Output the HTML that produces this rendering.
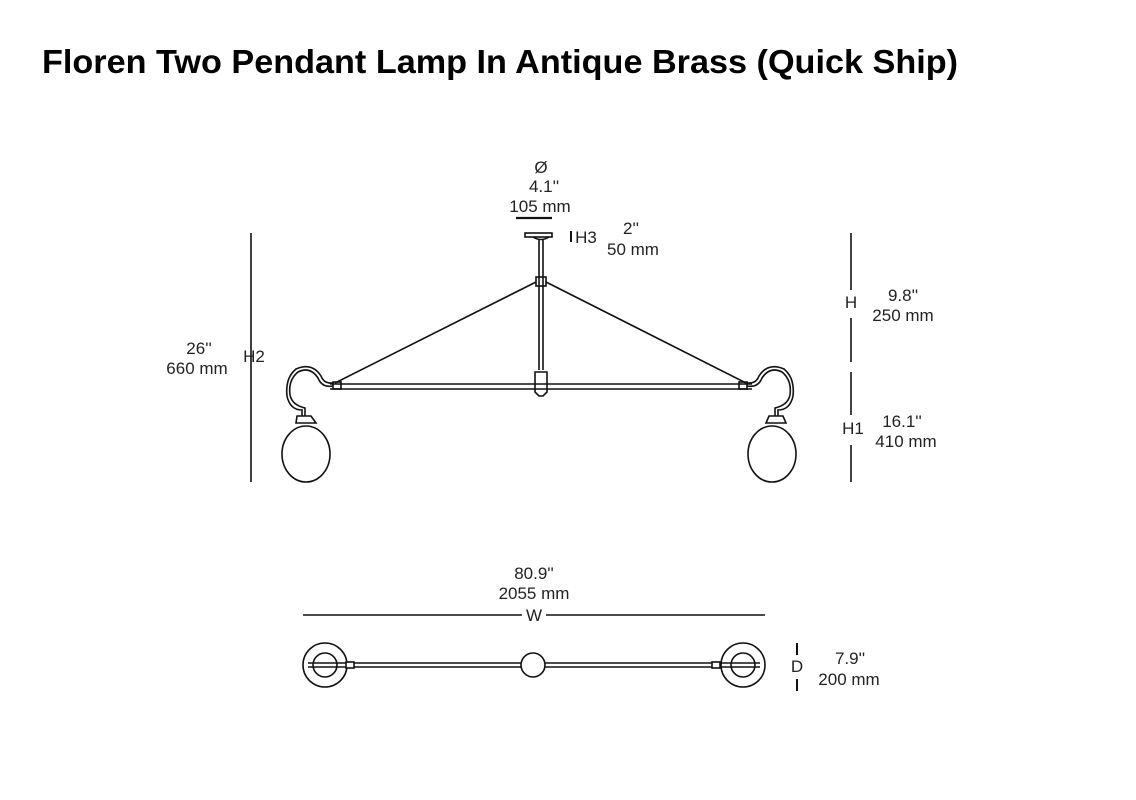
<!DOCTYPE html>
<html><head><style>
html,body{margin:0;padding:0;background:#fff;}
svg{display:block;}
text{font-family:"Liberation Sans",sans-serif;fill:#222;}
</style></head><body>
<svg width="1136" height="800" viewBox="0 0 1136 800" xmlns="http://www.w3.org/2000/svg">
<text x="42" y="73" font-size="33" font-weight="bold" style="fill:#000" textLength="916" lengthAdjust="spacingAndGlyphs">Floren Two Pendant Lamp In Antique Brass (Quick Ship)</text>

<g font-size="17" text-anchor="middle">
<text x="541" y="173">Ø</text>
<text x="544" y="192">4.1''</text>
<text x="540" y="212">105 mm</text>
<text x="586" y="243">H3</text>
<text x="631" y="234">2''</text>
<text x="633" y="255">50 mm</text>
<text x="199" y="354">26''</text>
<text x="197" y="374">660 mm</text>
<text x="254" y="362">H2</text>
<text x="851" y="308">H</text>
<text x="903" y="301">9.8''</text>
<text x="903" y="321">250 mm</text>
<text x="853" y="434">H1</text>
<text x="902" y="427">16.1''</text>
<text x="906" y="447">410 mm</text>
<text x="534" y="579">80.9''</text>
<text x="534" y="599">2055 mm</text>
<text x="534" y="621">W</text>
<text x="797" y="672">D</text>
<text x="850" y="664">7.9''</text>
<text x="849" y="685">200 mm</text>
</g>

<g stroke="#111" fill="none" stroke-width="1.6">
<line x1="516" y1="218" x2="552" y2="218" stroke-width="2.2"/>
<line x1="571" y1="231" x2="571" y2="242" stroke-width="2"/>
<line x1="251" y1="233" x2="251" y2="482"/>
<line x1="851" y1="233" x2="851" y2="290"/>
<line x1="851" y1="318" x2="851" y2="362"/>
<line x1="851" y1="372" x2="851" y2="415"/>
<line x1="851" y1="445" x2="851" y2="482"/>
<line x1="303" y1="615" x2="522" y2="615"/>
<line x1="546" y1="615" x2="765" y2="615"/>
<line x1="797" y1="643" x2="797" y2="655" stroke-width="2"/>
<line x1="797" y1="679" x2="797" y2="691" stroke-width="2"/>

<rect x="525" y="233" width="27" height="4"/>
<path d="M533 237 Q541 242 549 237"/>
<line x1="539" y1="240" x2="539" y2="370"/>
<line x1="543" y1="240" x2="543" y2="370"/>
<rect x="536" y="277" width="10" height="9"/>
<line x1="536" y1="282" x2="335" y2="383"/>
<line x1="546" y1="282" x2="746" y2="383"/>
<line x1="330" y1="384" x2="752" y2="384"/>
<line x1="330" y1="389" x2="752" y2="389"/>
<rect x="333" y="382" width="8" height="7"/>
<rect x="739" y="382" width="8" height="7"/>
<path d="M535 372 L547 372 L547 392 L543 396 L539 396 L535 392 Z"/>
<path d="M333 386 Q322 388 318 378 Q310 366 298 372 Q288 380 290 395 Q292 405 305 408 L305 416"/>
<path d="M333 383 Q324 384 321 376 Q312 362 296 369 Q285 378 287 396 Q290 410 302 410 L302 416"/>
<path d="M297 416 L311 416 L316 423 L296 423 Z"/>
<ellipse cx="306" cy="454" rx="24" ry="28"/>
<path d="M747 386 Q758 388 762 378 Q770 366 782 372 Q792 380 790 395 Q788 405 775 408 L775 416"/>
<path d="M747 383 Q756 384 759 376 Q768 362 784 369 Q795 378 793 396 Q790 410 778 410 L778 416"/>
<path d="M769 416 L783 416 L786 423 L766 423 Z"/>
<ellipse cx="772" cy="454" rx="24" ry="28"/>

<line x1="308" y1="663" x2="758" y2="663"/>
<line x1="308" y1="667" x2="758" y2="667"/>
<circle cx="325" cy="665" r="22" fill="#fff"/>
<circle cx="325" cy="665" r="12"/>
<line x1="308" y1="663" x2="350" y2="663"/>
<line x1="308" y1="667" x2="350" y2="667"/>
<rect x="346" y="662" width="8" height="6" fill="#fff"/>
<circle cx="743" cy="665" r="22" fill="#fff"/>
<circle cx="743" cy="665" r="12"/>
<line x1="718" y1="663" x2="760" y2="663"/>
<line x1="718" y1="667" x2="760" y2="667"/>
<rect x="712" y="662" width="8" height="6" fill="#fff"/>
<circle cx="533" cy="665" r="12" fill="#fff"/>
</g>
</svg>
</body></html>
